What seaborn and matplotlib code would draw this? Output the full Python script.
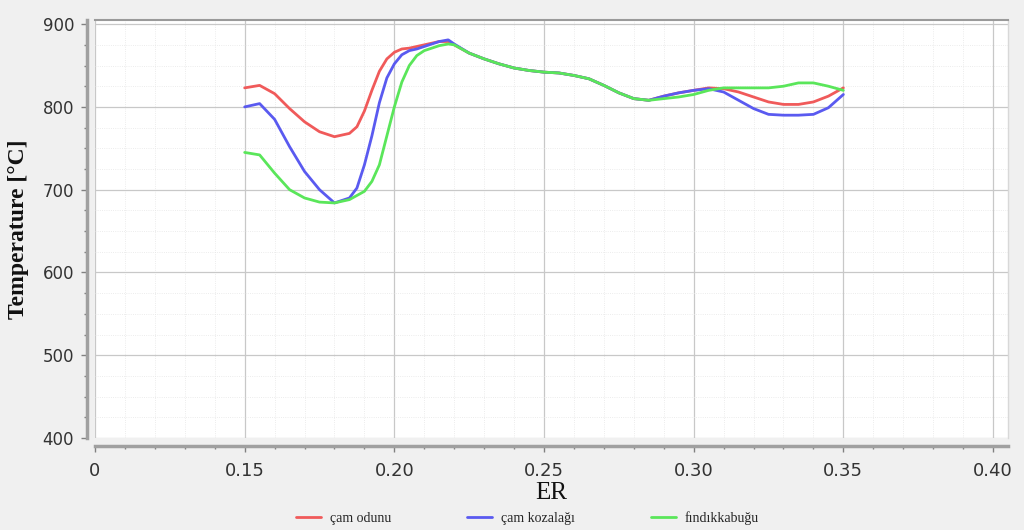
import matplotlib
matplotlib.use("Agg")
import matplotlib.pyplot as plt
import seaborn as sns
import pandas as pd
import numpy as np
from matplotlib.ticker import MultipleLocator, FixedLocator
from matplotlib.lines import Line2D

er = [0.150, 0.155, 0.160, 0.165, 0.170, 0.175, 0.180, 0.185, 0.1875, 0.190,
      0.1925, 0.195, 0.1975, 0.200, 0.2025, 0.205, 0.2075, 0.210, 0.215, 0.218,
      0.220, 0.225, 0.230, 0.235, 0.240, 0.245, 0.250, 0.255, 0.260, 0.265,
      0.270, 0.275, 0.280, 0.285, 0.290, 0.295, 0.300, 0.305, 0.310, 0.315,
      0.320, 0.325, 0.330, 0.335, 0.340, 0.345, 0.350]

cam_odunu = [823, 826, 816, 798, 782, 770, 764, 768, 776, 795,
             820, 843, 858, 866, 870, 871, 873, 875, 879, 879,
             875, 865, 858, 852, 847, 844, 842, 841, 838, 834,
             826, 817, 810, 808, 813, 817, 820, 823, 822, 818,
             812, 806, 803, 803, 806, 813, 823]

cam_kozalagi = [800, 804, 785, 752, 722, 700, 684, 690, 702, 730,
                765, 805, 835, 852, 863, 868, 870, 873, 879, 881,
                876, 865, 858, 852, 847, 844, 842, 841, 838, 834,
                826, 817, 810, 808, 813, 817, 820, 822, 818, 808,
                798, 791, 790, 790, 791, 799, 815]

findik_kabugu = [745, 742, 720, 700, 690, 685, 684, 688, 693, 698,
                 710, 730, 765, 800, 830, 850, 862, 868, 874, 876,
                 875, 865, 858, 852, 847, 844, 842, 841, 838, 834,
                 826, 817, 810, 808, 810, 812, 815, 820, 823, 823,
                 823, 823, 825, 829, 829, 825, 820]

series_names = ["çam odunu", "çam kozalağı", "fındıkkabuğu"]
series_colors = ["#f05a5a", "#5a5af0", "#5ae65a"]

x_ticks = [0.10, 0.15, 0.20, 0.25, 0.30, 0.35, 0.40]
x_tick_labels = ["0", "0.15", "0.20", "0.25", "0.30", "0.35", "0.40"]
y_ticks = [400, 500, 600, 700, 800, 900]

df = pd.DataFrame({
    "ER": er * 3,
    "Temperature": cam_odunu + cam_kozalagi + findik_kabugu,
    "Seri": [series_names[0]] * len(er) + [series_names[1]] * len(er) + [series_names[2]] * len(er),
})

sns.set_theme(style="white")
plt.rcParams["font.family"] = ["DejaVu Sans"]

fig = plt.figure(figsize=(10.24, 5.30), dpi=100, facecolor="#f0f0f0")
ax = fig.add_axes([95 / 1024, (530 - 438) / 530, (1008 - 95) / 1024, (438 - 20) / 530])
ax.set_facecolor("white")

sns.lineplot(data=df, x="ER", y="Temperature", hue="Seri", palette=series_colors,
             hue_order=series_names, linewidth=2.0, ax=ax, legend=False, sort=False)

ax.set_xlim(0.10, 0.405)
ax.set_ylim(400, 905)
ax.xaxis.set_major_locator(FixedLocator(x_ticks))
ax.set_xticklabels(x_tick_labels)
ax.xaxis.set_minor_locator(MultipleLocator(0.01))
ax.yaxis.set_major_locator(FixedLocator(y_ticks))
ax.yaxis.set_minor_locator(MultipleLocator(25))

ax.grid(True, which="major", color="#c8c8c8", linewidth=0.9)
ax.grid(True, which="minor", color="#e6e6e6", linewidth=0.6, linestyle=":")
ax.set_axisbelow(True)

for s in ["left", "bottom"]:
    ax.spines[s].set_position(("outward", 6))
    ax.spines[s].set_color("#a0a0a0")
    ax.spines[s].set_linewidth(2.5)
ax.spines["top"].set_color("#9a9a9a")
ax.spines["top"].set_linewidth(1.5)
ax.spines["right"].set_color("#d8d8d8")
ax.spines["right"].set_linewidth(1.0)

ax.tick_params(axis="both", which="major", direction="out", length=4, width=1,
               color="#808080", labelsize=12, labelcolor="#333333", pad=5)
ax.tick_params(axis="both", which="minor", direction="out", length=2, width=1, color="#808080")
ax.tick_params(axis="x", which="major", pad=7, labelsize=13)
ax.tick_params(axis="y", which="both", left=True)
ax.tick_params(axis="x", which="both", bottom=True)

ax.set_xlabel("ER", fontsize=18, family="Liberation Serif", color="#111111", labelpad=2)
ax.set_ylabel("Temperature [°C]", fontsize=17, family="Liberation Serif",
              fontweight="bold", color="#111111", labelpad=10)

handles = [Line2D([0], [0], color=c, linewidth=2) for c in series_colors]
fig.legend(handles, series_names, loc="center", bbox_to_anchor=(0.515, 1 - 518 / 530),
           ncol=3, frameon=False, handlelength=1.8, columnspacing=5.5, handletextpad=0.6,
           prop={"family": "Liberation Serif", "size": 10})

fig.savefig("out.png", dpi=100, facecolor=fig.get_facecolor())
